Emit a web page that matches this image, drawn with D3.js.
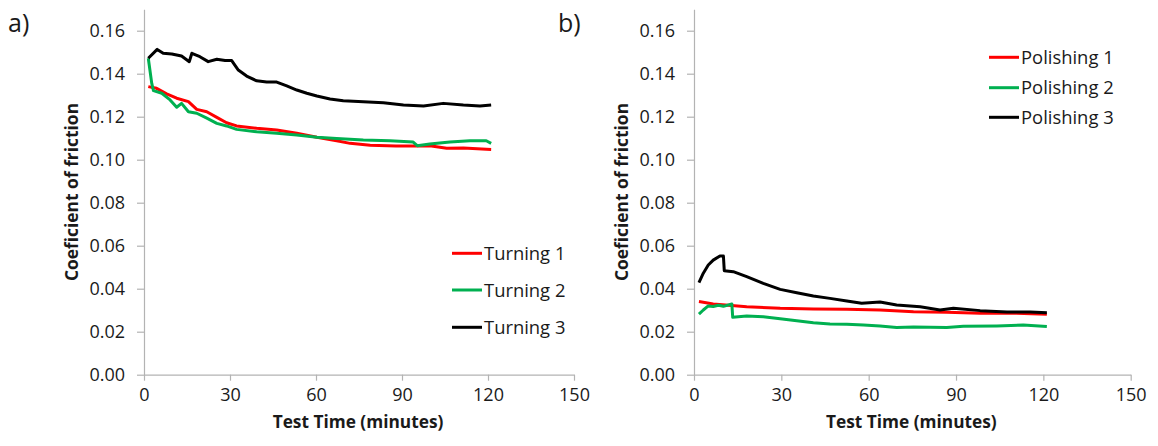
<!DOCTYPE html>
<html>
<head>
<meta charset="utf-8">
<script src="https://cdn.jsdelivr.net/npm/d3@7"></script>
<style>
  body { margin: 0; background: #fff; }
  text { font-family: "Open Sans", sans-serif; fill: #1a1a1a; }
</style>
</head>
<body>
<div id="chart"></div>
<script>
const W = 1158, H = 446;

const axisGrey = "#b3b3b3";
const red = "#ff0000";
const green = "#00b050";
const black = "#000000";

const xTicks = [0, 30, 60, 90, 120, 150];
const yTicks = [0, 0.02, 0.04, 0.06, 0.08, 0.10, 0.12, 0.14, 0.16];

// panel a) turning, [minutes, cof]
const turning1 = [[1.5,0.1340],[4.4,0.1332],[7.9,0.1306],[11.4,0.1286],[15.5,0.1270],[18.4,0.1234],[21.9,0.1223],[25.4,0.1197],[28.8,0.1172],[32.3,0.1157],[39.3,0.1146],[46.3,0.1138],[53.3,0.1123],[60.3,0.1104],[67.2,0.1088],[71.9,0.1076],[78.9,0.1067],[87.9,0.1064],[95.0,0.1064],[99.7,0.1065],[105.6,0.1053],[111.4,0.1054],[121.1,0.1048]];
const turning2 = [[1.5,0.1472],[2.7,0.1355],[3.3,0.1321],[6.2,0.1309],[9.1,0.1278],[11.4,0.1244],[13.1,0.1262],[15.5,0.1223],[18.4,0.1216],[21.9,0.1193],[25.4,0.1169],[28.8,0.1157],[32.3,0.1141],[39.3,0.1130],[46.3,0.1123],[53.3,0.1115],[60.3,0.1104],[67.2,0.1099],[76.5,0.1092],[85.8,0.1088],[93.9,0.1082],[95.3,0.1065],[99.7,0.1073],[106.7,0.1082],[113.7,0.1088],[119.4,0.1088],[121.1,0.1076]];
const turning3 = [[1.5,0.1472],[4.6,0.1513],[6.7,0.1495],[9.7,0.1492],[13.1,0.1482],[15.8,0.1456],[16.7,0.1495],[19.5,0.1479],[22.4,0.1456],[25.4,0.1467],[28.3,0.1461],[30.6,0.1461],[32.9,0.1417],[35.8,0.1389],[39.3,0.1367],[42.8,0.1361],[46.3,0.1361],[49.8,0.1343],[53.3,0.1324],[56.8,0.1309],[60.3,0.1296],[64.9,0.1282],[69.5,0.1274],[76.5,0.1270],[83.5,0.1265],[90.5,0.1254],[97.5,0.1250],[104.4,0.1262],[111.4,0.1254],[117.2,0.1250],[121.1,0.1254]];

// panel b) polishing
const polishing1 = [[1.7,0.0340],[6.6,0.0329],[18.1,0.0316],[29.6,0.0309],[41.0,0.0306],[52.5,0.0304],[63.9,0.0301],[75.4,0.0293],[86.8,0.0290],[98.3,0.0286],[109.7,0.0286],[121.2,0.0281]];
const polishing2 = [[1.7,0.0282],[3.2,0.0301],[4.9,0.0320],[6.6,0.0317],[8.4,0.0323],[10.1,0.0318],[13.0,0.0329],[13.3,0.0267],[18.1,0.0273],[23.8,0.0270],[29.6,0.0260],[35.3,0.0251],[41.0,0.0242],[46.7,0.0236],[52.5,0.0235],[58.2,0.0231],[63.9,0.0227],[69.6,0.0220],[75.4,0.0222],[86.8,0.0220],[92.5,0.0225],[104.0,0.0227],[113.1,0.0231],[121.2,0.0224]];
const polishing3 = [[1.7,0.0428],[3.2,0.0472],[4.9,0.0510],[6.6,0.0533],[8.9,0.0552],[10.1,0.0552],[10.4,0.0484],[13.5,0.0479],[18.1,0.0456],[23.8,0.0425],[29.6,0.0397],[35.3,0.0381],[41.0,0.0366],[46.7,0.0355],[52.5,0.0343],[57.6,0.0332],[63.9,0.0338],[69.6,0.0324],[77.7,0.0316],[84.5,0.0301],[89.1,0.0309],[98.3,0.0298],[107.5,0.0292],[115.5,0.0292],[121.2,0.0288]];

const svg = d3.select("#chart").append("svg")
  .attr("width", W).attr("height", H);

function drawPanel(opt) {
  const x = d3.scaleLinear().domain([0, 150]).range([opt.x0, opt.x1]);
  const y = d3.scaleLinear().domain([0, 0.17]).range([374.7, 9.2]);

  const g = svg.append("g");

  const yAxis = g.append("g")
    .attr("transform", `translate(${opt.x0},0)`)
    .call(d3.axisLeft(y).tickValues(yTicks).tickFormat(d3.format(".2f")).tickSize(7).tickPadding(12).tickSizeOuter(0));
  const xAxis = g.append("g")
    .attr("transform", `translate(0,${y(0)})`)
    .call(d3.axisBottom(x).tickValues(xTicks).tickSize(6).tickPadding(8).tickSizeOuter(0));

  [yAxis, xAxis].forEach(a => {
    a.selectAll("path.domain").attr("stroke", axisGrey).attr("stroke-width", 1.2);
    a.selectAll(".tick line").attr("stroke", axisGrey).attr("stroke-width", 1.2);
    a.selectAll(".tick text").attr("font-size", 18).attr("fill", "#1a1a1a")
      .style("font-family", "'Open Sans', sans-serif");
  });

  const line = d3.line().x(d => x(d[0])).y(d => y(d[1]));

  opt.series.forEach(s => {
    g.append("path")
      .datum(s.data)
      .attr("d", line)
      .attr("fill", "none")
      .attr("stroke", s.color)
      .attr("stroke-width", 3)
      .attr("stroke-linejoin", "round");
  });

  // legend
  opt.series.forEach((s, i) => {
    const ly = opt.legY[i];
    g.append("line")
      .attr("x1", opt.legX).attr("x2", opt.legX + 30)
      .attr("y1", ly).attr("y2", ly)
      .attr("stroke", s.color).attr("stroke-width", 3);
    g.append("text")
      .attr("x", opt.legX + 32).attr("y", ly + 6.5)
      .attr("font-size", 18.4)
      .text(s.name);
  });

  // axis titles
  g.append("text")
    .attr("transform", `translate(${opt.x0 - 66},192) rotate(-90)`)
    .attr("text-anchor", "middle")
    .attr("font-size", 17.4).attr("font-weight", "bold")
    .text("Coeficient of friction");
  g.append("text")
    .attr("x", (opt.x0 + opt.x1) / 2 - 1).attr("y", 428)
    .attr("text-anchor", "middle")
    .attr("font-size", 17.3).attr("font-weight", "bold")
    .text("Test Time (minutes)");

  g.append("text")
    .attr("x", opt.x0 - 136).attr("y", 32)
    .attr("font-size", 25)
    .text(opt.label);
}

drawPanel({
  x0: 144, x1: 574, label: "a)",
  legX: 452, legY: [253.3, 290, 327.3],
  series: [
    { name: "Turning 1", color: red, data: turning1 },
    { name: "Turning 2", color: green, data: turning2 },
    { name: "Turning 3", color: black, data: turning3 }
  ]
});

drawPanel({
  x0: 694, x1: 1130.7, label: "b)",
  legX: 989, legY: [57.3, 87.7, 117.3],
  series: [
    { name: "Polishing 1", color: red, data: polishing1 },
    { name: "Polishing 2", color: green, data: polishing2 },
    { name: "Polishing 3", color: black, data: polishing3 }
  ]
});
</script>
</body>
</html>
